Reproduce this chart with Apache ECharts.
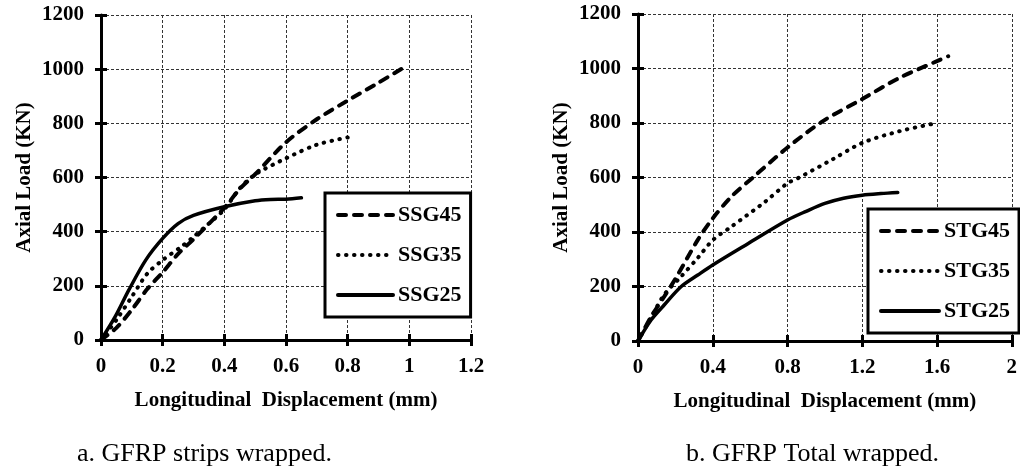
<!DOCTYPE html>
<html>
<head>
<meta charset="utf-8">
<script src="https://cdn.jsdelivr.net/npm/echarts@6/dist/echarts.min.js"></script>
<style>
  html, body { margin: 0; padding: 0; background: #fff; }
  #chartWrapper { width: 1020px; height: 476px; }
</style>
</head>
<body>
<div id="chartWrapper"></div>
<script>
// a. GFRP strips wrapped
let dispSSG45 = [0, 0.05, 0.1, 0.15, 0.2, 0.25, 0.3, 0.4, 0.45, 0.5, 0.6, 0.7, 0.8, 0.9, 0.98];
let loadSSG45 = [0, 45, 112, 188, 250, 318, 372, 488, 558, 612, 730, 815, 884, 950, 1005];
let dispSSG35 = [0, 0.05, 0.1, 0.15, 0.2, 0.26, 0.3, 0.35, 0.4, 0.45, 0.5, 0.6, 0.7, 0.8];
let loadSSG35 = [0, 74, 160, 245, 295, 344, 381, 430, 482, 560, 611, 671, 721, 748];
let dispSSG25 = [0, 0.046, 0.09, 0.145, 0.2, 0.25, 0.3, 0.4, 0.5, 0.55, 0.6, 0.65];
let loadSSG25 = [0, 86, 184, 295, 375, 430, 460, 492, 514, 519, 520, 525];

// b. GFRP Total wrapped
let dispSTG45 = [0, 0.07, 0.14, 0.2, 0.32, 0.4, 0.5, 0.62, 0.8, 0.99, 1.2, 1.4, 1.6, 1.66];
let loadSTG45 = [0, 89, 163, 228, 371, 450, 530, 603, 710, 807, 888, 966, 1027, 1045];
let dispSTG35 = [0, 0.07, 0.14, 0.23, 0.32, 0.4, 0.5, 0.68, 0.8, 0.86, 1.04, 1.2, 1.4, 1.6];
let loadSTG35 = [0, 85, 170, 236, 305, 370, 420, 511, 579, 599, 666, 727, 770, 800];
let dispSTG25 = [0, 0.07, 0.14, 0.23, 0.32, 0.4, 0.59, 0.8, 0.9, 1.0, 1.1, 1.2, 1.3, 1.39];
let loadSTG25 = [0, 77, 132, 199, 242, 279, 358, 444, 476, 505, 524, 535, 541, 545];

let namesLeft = ['SSG45', 'SSG35', 'SSG25'];
let namesRight = ['STG45', 'STG35', 'STG25'];
let xTitle = 'Longitudinal  Displacement (mm)';
let yTitle = 'Axial Load (KN)';
let captionLeft = 'a. GFRP strips wrapped.';
let captionRight = 'b. GFRP Total wrapped.';

let serif = '"Liberation Serif", "Times New Roman", serif';
let boldText = { color: '#000', fontFamily: serif, fontWeight: 'bold', fontSize: 21 };

function pairs(xs, ys) {
    return xs.map(function (x, i) { return [x, ys[i]]; });
}

// line styles: dashed / dotted / solid
let styles = [
    { color: '#000', width: 4, type: [8, 8], cap: 'round' },
    { color: '#000', width: 4, type: [0.5, 7.5], cap: 'round' },
    { color: '#000', width: 3.5, type: 'solid', cap: 'round' }
];

function mainX(grid, max, interval) {
    return {
        type: 'value', gridIndex: grid, min: 0, max: max, interval: interval,
        position: 'bottom',
        name: xTitle, nameLocation: 'middle', nameGap: 50,
        nameTextStyle: boldText,
        axisLine: { show: true, lineStyle: { color: '#000', width: 3 } },
        axisTick: { show: true, inside: false, length: 6, lineStyle: { color: '#000', width: 3 } },
        axisLabel: Object.assign({ margin: 16 }, boldText),
        splitLine: { show: true, lineStyle: { color: '#333', width: 1, type: [3, 2] } }
    };
}
function mainY(grid) {
    return {
        type: 'value', gridIndex: grid, min: 0, max: 1200, interval: 200,
        position: 'left',
        name: yTitle, nameLocation: 'middle', nameGap: 66,
        nameTextStyle: boldText,
        axisLine: { show: true, lineStyle: { color: '#000', width: 3 } },
        axisTick: { show: true, inside: false, length: 6, lineStyle: { color: '#000', width: 3 } },
        axisLabel: Object.assign({ margin: 17, formatter: function (v) { return String(v); } }, boldText),
        splitLine: { show: true, lineStyle: { color: '#333', width: 1, type: [3, 2] } }
    };
}
// extra axes only to draw the inner half of the crossing ticks
function tickX(grid, max, interval) {
    return {
        type: 'value', gridIndex: grid, min: 0, max: max, interval: interval, position: 'bottom',
        axisLine: { show: false }, axisLabel: { show: false }, splitLine: { show: false },
        axisTick: { show: true, inside: true, length: 6, lineStyle: { color: '#000', width: 3 } }
    };
}
function tickY(grid) {
    return {
        type: 'value', gridIndex: grid, min: 0, max: 1200, interval: 200, position: 'left',
        axisLine: { show: false }, axisLabel: { show: false }, splitLine: { show: false },
        axisTick: { show: true, inside: true, length: 6, lineStyle: { color: '#000', width: 3 } }
    };
}

function makeSeries(name, data, xi, style) {
    return {
        name: name, type: 'line', xAxisIndex: xi, yAxisIndex: xi,
        data: data, smooth: 0.3, symbol: 'none', showSymbol: false,
        lineStyle: style, itemStyle: { color: '#000' }, animation: false
    };
}

function makeLegend(names, left, top, itemWidth) {
    return {
        data: names, orient: 'vertical', left: left, top: top,
        itemWidth: itemWidth, itemHeight: 20, itemGap: 18,
        padding: [11, 9, 11, 11],
        borderColor: '#000', borderWidth: 3, backgroundColor: '#fff',
        itemStyle: { color: 'rgba(0,0,0,0)', borderWidth: 0, opacity: 0 },
        lineStyle: { width: 4 },
        textStyle: Object.assign({}, boldText, { fontSize: 22 }),
        selectedMode: false
    };
}

let myChart = echarts.init(document.getElementById('chartWrapper'));

let option = {
    backgroundColor: '#fff',
    animation: false,
    grid: [
        { left: 101, top: 15, width: 370, height: 325 },
        { left: 638, top: 14, width: 375, height: 327 }
    ],
    xAxis: [mainX(0, 1.2, 0.2), mainX(1, 2, 0.4), tickX(0, 1.2, 0.2), tickX(1, 2, 0.4)],
    yAxis: [mainY(0), mainY(1), tickY(0), tickY(1)],
    legend: [
        makeLegend(namesLeft, 325, 193, 55),
        makeLegend(namesRight, 868, 209, 58)
    ],
    title: [
        { text: captionLeft, left: 77, top: 441, padding: 0,
          textStyle: { color: '#000', fontFamily: serif, fontWeight: 'normal', fontSize: 26 } },
        { text: captionRight, left: 686, top: 441, padding: 0,
          textStyle: { color: '#000', fontFamily: serif, fontWeight: 'normal', fontSize: 26 } }
    ],
    series: [
        makeSeries(namesLeft[0], pairs(dispSSG45, loadSSG45), 0, styles[0]),
        makeSeries(namesLeft[1], pairs(dispSSG35, loadSSG35), 0, styles[1]),
        makeSeries(namesLeft[2], pairs(dispSSG25, loadSSG25), 0, styles[2]),
        makeSeries(namesRight[0], pairs(dispSTG45, loadSTG45), 1, styles[0]),
        makeSeries(namesRight[1], pairs(dispSTG35, loadSTG35), 1, styles[1]),
        makeSeries(namesRight[2], pairs(dispSTG25, loadSTG25), 1, styles[2])
    ]
};

myChart.setOption(option);
</script>
</body>
</html>
